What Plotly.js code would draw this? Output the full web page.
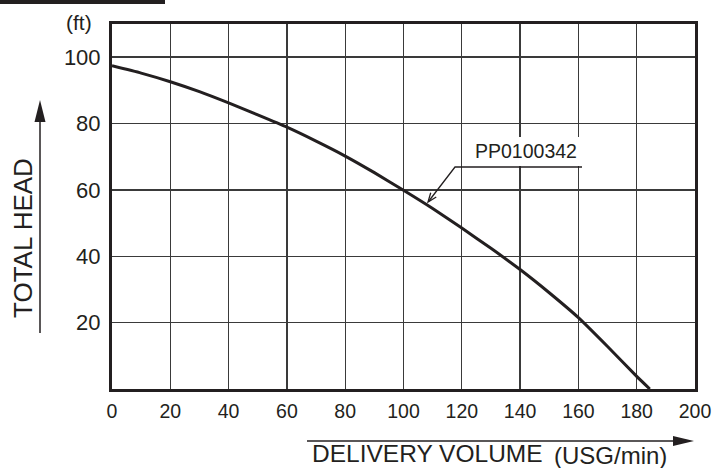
<!DOCTYPE html>
<html>
<head>
<meta charset="utf-8">
<script src="https://cdn.plot.ly/plotly-3.0.1.min.js"></script>
<style>html,body{margin:0;padding:0;background:#fff;}#chart{width:713px;height:468px;}</style>
</head>
<body>
<div id="chart"></div>
<script>
// ---- data ----
const deliveryVolume = [0, 10, 20, 30, 40, 50, 60, 70, 80, 90, 100, 110, 120, 130, 140, 150, 160, 170, 180, 184.5];
const totalHead      = [97.4, 95.2, 92.6, 89.6, 86.2, 82.6, 78.9, 74.7, 70.2, 65.2, 59.9, 54.4, 48.5, 42.4, 36.0, 29.0, 21.5, 12.8, 3.8, 0];
const xTickVals = [0, 20, 40, 60, 80, 100, 120, 140, 160, 180, 200];
const xTickText = ["0", "20", "40", "60", "80", "100", "120", "140", "160", "180", "200"];
const yTickVals = [20, 40, 60, 80, 100];
const yTickText = ["20", "40", "60", "80", "100"];
const seriesName = "PP0100342";
const xTitle = "DELIVERY VOLUME";
const xUnit = "(USG/min)";
const yTitle = "TOTAL HEAD";
const yUnit = "(ft)";

// ---- layout geometry (pixels) ----
const W0 = 713, H0 = 468;
const L = 112, R = 695, T = 24, B = 389;
const PW = R - L, PH = B - T;
const PX = x => (x - L) / PW;
const PY = y => (B - y) / PH;
const INK = '#231f20';
const FONT = 'Liberation Sans, Arial, Helvetica, sans-serif';

function tri(tipX, tipY, baseX, baseY, half) {
  const dx = tipX - baseX, dy = tipY - baseY;
  const len = Math.hypot(dx, dy);
  const nx = -dy / len, ny = dx / len;
  const p1 = [baseX + nx * half, baseY + ny * half];
  const p2 = [baseX - nx * half, baseY - ny * half];
  return `M ${PX(tipX)},${PY(tipY)} L ${PX(p1[0])},${PY(p1[1])} L ${PX(p2[0])},${PY(p2[1])} Z`;
}
function vhead(tipX, tipY, fromX, fromY, len, half) {
  const dx = tipX - fromX, dy = tipY - fromY;
  const d = Math.hypot(dx, dy);
  const ux = dx / d, uy = dy / d;
  const bx = tipX - ux * len, by = tipY - uy * len;
  const nx = -uy, ny = ux;
  return `M ${PX(bx + nx * half)},${PY(by + ny * half)} L ${PX(tipX)},${PY(tipY)} L ${PX(bx - nx * half)},${PY(by - ny * half)}`;
}

const shapes = [
  // black bar at top-left
  {type: 'rect', xref: 'paper', yref: 'paper', x0: PX(0), x1: PX(165), y0: PY(4), y1: PY(0),
   fillcolor: INK, line: {width: 0}},
  // y arrow
  {type: 'line', xref: 'paper', yref: 'paper', x0: PX(40), x1: PX(40), y0: PY(333), y1: PY(118),
   line: {color: INK, width: 1.5}},
  {type: 'path', xref: 'paper', yref: 'paper', path: tri(40, 100, 40, 122, 5.5), fillcolor: INK, line: {width: 0}},
  // x arrow
  {type: 'line', xref: 'paper', yref: 'paper', x0: PX(307), x1: PX(676), y0: PY(441), y1: PY(441),
   line: {color: INK, width: 1.5}},
  {type: 'path', xref: 'paper', yref: 'paper', path: tri(694, 441, 673, 441, 5), fillcolor: INK, line: {width: 0}},
  // white box behind the label
  {type: 'rect', xref: 'paper', yref: 'paper', layer: 'above', x0: PX(470), x1: PX(583), y0: PY(166), y1: PY(137),
   fillcolor: '#ffffff', line: {width: 0}},
  // leader line
  {type: 'path', xref: 'paper', yref: 'paper', layer: 'above',
   path: `M ${PX(582)},${PY(167)} L ${PX(455)},${PY(167)} L ${PX(428.5)},${PY(201.5)}`,
   line: {color: INK, width: 1.3}},
  {type: 'path', xref: 'paper', yref: 'paper', layer: 'above',
   path: vhead(428, 202, 455, 167, 9, 3.5), line: {color: INK, width: 1.3}}
];

const annotations = [
  {xref: 'paper', yref: 'paper', x: PX(310), y: PY(453), xanchor: 'left', yanchor: 'middle',
   text: xTitle, showarrow: false, font: {family: FONT, size: 24.5, color: INK}},
  {xref: 'paper', yref: 'paper', x: PX(552), y: PY(455), xanchor: 'left', yanchor: 'middle',
   text: xUnit, showarrow: false, font: {family: FONT, size: 24, color: INK}},
  {xref: 'paper', yref: 'paper', x: PX(23), y: PY(238), xanchor: 'center', yanchor: 'middle', textangle: -90,
   text: yTitle, showarrow: false, font: {family: FONT, size: 26, color: INK}},
  {xref: 'paper', yref: 'paper', x: PX(79), y: PY(23), xanchor: 'center', yanchor: 'middle',
   text: yUnit, showarrow: false, font: {family: FONT, size: 21, color: INK}},
  {xref: 'paper', yref: 'paper', x: PX(526), y: PY(151), xanchor: 'center', yanchor: 'middle',
   text: seriesName, showarrow: false, font: {family: FONT, size: 19.5, color: INK}}
];

const trace = {
  x: deliveryVolume, y: totalHead, type: 'scatter', mode: 'lines', name: seriesName,
  line: {color: INK, width: 3, shape: 'spline', smoothing: 0.5},
  hoverinfo: 'skip'
};

const layout = {
  width: W0, height: H0,
  margin: {l: L, r: W0 - R, t: T, b: H0 - B, pad: 0},
  paper_bgcolor: '#ffffff', plot_bgcolor: '#ffffff',
  showlegend: false,
  font: {family: FONT, color: INK, size: 20},
  xaxis: {
    range: [0, 200], tickmode: 'array', tickvals: xTickVals, ticktext: xTickText,
    ticks: '', ticklabelstandoff: 3, ticklabeloverflow: 'allow',
    tickfont: {family: FONT, size: 19.5, color: INK},
    showgrid: true, gridcolor: '#3a3a3a', gridwidth: 1.4,
    showline: true, mirror: true, linecolor: INK, linewidth: 3, zeroline: false, fixedrange: true
  },
  yaxis: {
    range: [0, 110], tickmode: 'array', tickvals: yTickVals, ticktext: yTickText,
    ticks: '', ticklabelstandoff: 4, ticklabeloverflow: 'allow',
    tickfont: {family: FONT, size: 22, color: INK},
    showgrid: true, gridcolor: '#3a3a3a', gridwidth: 1.4,
    showline: true, mirror: true, linecolor: INK, linewidth: 3, zeroline: false, fixedrange: true
  },
  shapes: shapes,
  annotations: annotations
};

Plotly.newPlot('chart', [trace], layout, {displayModeBar: false, staticPlot: true});
</script>
</body>
</html>
